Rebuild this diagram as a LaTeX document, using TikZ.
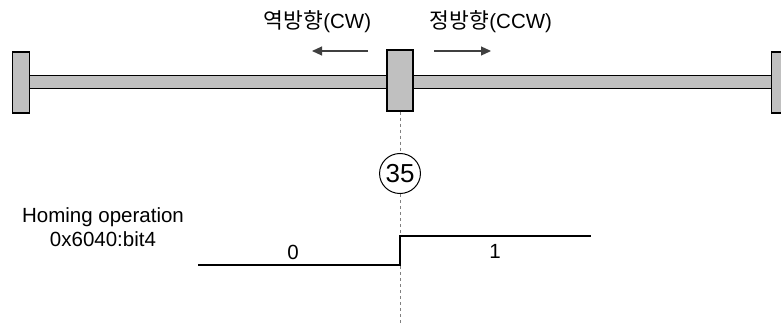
\documentclass[tikz,border=0pt]{standalone}
\usepackage{fontspec}
\setmainfont{Liberation Sans}
\newfontfamily\kr[Scale=1.05]{Noto Sans CJK KR}
\usetikzlibrary{arrows.meta,shapes.geometric}
\definecolor{railgray}{HTML}{C0C0C0}
\definecolor{arrowgray}{HTML}{404040}
\definecolor{dashgray}{HTML}{808080}

\begin{document}
\begin{tikzpicture}[x=1pt,y=-1pt,
		block/.style={draw=black, line width=1.4pt, fill=railgray, inner sep=0pt, minimum width=17pt, minimum height=61pt},
		dirarrow/.style={draw=arrowgray, line width=1.1pt, -{Triangle[length=10pt,width=9pt]}},
		label/.style={font=\fontsize{20.5}{24}\selectfont, inner sep=0pt},
		signal/.style={line width=2pt, line join=miter}]
			\clip (0,0) rectangle (781,326);
			\useasboundingbox (0,0) rectangle (781,326);
			% rail and blocks
			\draw[line width=1.4pt, fill=railgray](29,75.5) rectangle (772,88.5);
			\node[block] (leftstop) at (21,82.5) {};
			\node[block, minimum width=26pt] (home) at (400,80.5) {};
			\node[block] (rightstop) at (780,82.5) {};
			% direction labels
			\node[label] (cw) at (317.5,22) {{\kr 역방향}(CW)};
			\node[label] (ccw) at (491,22) {{\kr 정방향}(CCW)};
			\coordinate (cwstart) at (368,51);
			\coordinate (cwend) at (312,51);
			\coordinate (ccwstart) at (434,51);
			\coordinate (ccwend) at (491,51);
			\draw[dirarrow](cwstart) -- (cwend);
			\draw[dirarrow](ccwstart) -- (ccwend);
			% home position marker
			\node[draw, ellipse, line width=1pt, inner sep=0pt, minimum width=36pt, minimum height=40pt,
				font=\fontsize{26}{28}\selectfont] (step35) at (400,173.5) {35};
			\coordinate (bottom) at (400,326);
			\draw[dashgray, line width=1pt, dash pattern=on 3pt off 3pt](home.south) -- (step35.north);
			\draw[dashgray, line width=1pt, dash pattern=on 3pt off 3pt](step35.south) -- (bottom);
			% signal
			\node[label, align=center] (homing) at (103,227) {Homing operation\\0x6040:bit4};
			\coordinate (lowstart) at (198,265);
			\coordinate (lowend) at (400,265);
			\coordinate (highstart) at (400,236);
			\coordinate (highend) at (591,236);
			\draw[signal](lowstart) -- (lowend) -- (highstart) -- (highend);
			\node[label] (low) at (293,252) {0};
			\node[label] (high) at (495,251) {1};
		\end{tikzpicture}
\end{document}
